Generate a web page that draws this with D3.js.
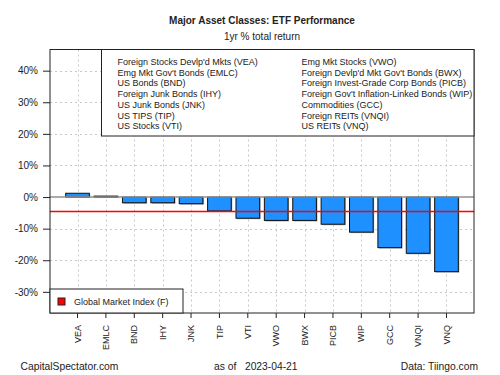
<!DOCTYPE html>
<html>
<head>
<meta charset="utf-8">
<script src="https://cdn.jsdelivr.net/npm/d3@7"></script>
<style>
  body { margin: 0; background: #fff; }
  svg { font-family: "Liberation Sans", Arial, sans-serif; }
</style>
</head>
<body>
<div id="chart"></div>
<script>
// podaci
const tickers = ["VEA", "EMLC", "BND", "IHY", "JNK", "TIP", "VTI", "VWO", "BWX", "PICB", "WIP", "GCC", "VNQI", "VNQ"];
const returns = [1.2, 0.3, -1.8, -1.8, -2.1, -4.4, -6.7, -7.4, -7.4, -8.6, -11.1, -16.0, -17.8, -23.6];
const globalIndex = -4.6;
const yTicks = [-30, -20, -10, 0, 10, 20, 30, 40];
const legendLeft = [
    "Foreign Stocks Devlp'd Mkts (VEA)",
    "Emg Mkt Gov't Bonds (EMLC)",
    "US Bonds (BND)",
    "Foreign Junk Bonds (IHY)",
    "US Junk Bonds (JNK)",
    "US TIPS (TIP)",
    "US Stocks (VTI)"
];
const legendRight = [
    "Emg Mkt Stocks (VWO)",
    "Foreign Devlp'd Mkt Gov't Bonds (BWX)",
    "Foreign Invest-Grade Corp Bonds (PICB)",
    "Foreign Gov't Inflation-Linked Bonds (WIP)",
    "Commodities (GCC)",
    "Foreign REITs (VNQI)",
    "US REITs (VNQ)"
];

const dim = {
    sirina: 500,
    visina: 375,
    left: 50,
    right: 474,
    top: 49.5,
    bottom: 313
};

const svg = d3.select("#chart")
    .append("svg")
    .attr("width", dim.sirina)
    .attr("height", dim.visina);

// skale
const xScale = d3.scaleBand()
    .domain(tickers)
    .range([dim.left, dim.right])
    .paddingInner(1 / 6)
    .paddingOuter(0.553);

const yScale = d3.scaleLinear()
    .domain([-36.7, 46.7])
    .range([dim.bottom, dim.top]);

const cx = d => xScale(d) + xScale.bandwidth() / 2;

// mreza
const grid = svg.append("g")
    .attr("stroke", "#c8c8c8")
    .attr("stroke-dasharray", "2,3")
    .attr("stroke-width", 1);

grid.selectAll(".h")
    .data(yTicks.filter(t => t !== 0))
    .join("line")
    .attr("x1", dim.left)
    .attr("x2", dim.right)
    .attr("y1", d => Math.round(yScale(d)) + 0.5)
    .attr("y2", d => Math.round(yScale(d)) + 0.5);

grid.selectAll(".v")
    .data(tickers)
    .join("line")
    .attr("x1", d => Math.round(cx(d)) + 0.5)
    .attr("x2", d => Math.round(cx(d)) + 0.5)
    .attr("y1", dim.top)
    .attr("y2", dim.bottom);

// stupci
const data = tickers.map((t, i) => ({ ticker: t, value: returns[i] }));

svg.append("g")
    .selectAll("rect")
    .data(data)
    .join("rect")
    .attr("x", d => xScale(d.ticker) + 1)
    .attr("y", d => yScale(Math.max(0, d.value)) + 1)
    .attr("width", xScale.bandwidth())
    .attr("height", d => Math.max(0.5, Math.abs(yScale(d.value) - yScale(0))))
    .attr("fill", "#a0a0a0");

svg.append("g")
    .selectAll("rect")
    .data(data)
    .join("rect")
    .attr("x", d => xScale(d.ticker))
    .attr("y", d => yScale(Math.max(0, d.value)))
    .attr("width", xScale.bandwidth())
    .attr("height", d => Math.abs(yScale(d.value) - yScale(0)))
    .attr("fill", "#1E90FF")
    .attr("stroke", "#111")
    .attr("stroke-width", 1);

// nulta linija i globalni indeks
svg.append("line")
    .attr("x1", dim.left)
    .attr("x2", dim.right)
    .attr("y1", yScale(0))
    .attr("y2", yScale(0))
    .attr("stroke", "#909090")
    .attr("stroke-width", 1.5);

svg.append("line")
    .attr("x1", dim.left)
    .attr("x2", dim.right)
    .attr("y1", yScale(globalIndex))
    .attr("y2", yScale(globalIndex))
    .attr("stroke", "#ff0000")
    .attr("stroke-width", 1.5);

// osi
const yAxis = svg.append("g")
    .attr("transform", `translate(${dim.left},0)`)
    .call(d3.axisLeft(yScale).tickValues(yTicks).tickSize(7).tickPadding(5).tickFormat(d => d + "%"));
yAxis.select(".domain").remove();
yAxis.selectAll(".tick line").attr("stroke", "#222");
yAxis.selectAll("text").attr("font-size", 10).attr("fill", "#222").attr("font-family", null);

const xAxis = svg.append("g")
    .attr("transform", `translate(0,${dim.bottom})`)
    .call(d3.axisBottom(xScale).tickSize(5).tickSizeOuter(0));
xAxis.select(".domain").remove();
xAxis.selectAll(".tick line").attr("stroke", "#222");
xAxis.selectAll("text")
    .attr("font-size", 9)
    .attr("fill", "#222")
    .attr("font-family", null)
    .attr("transform", "rotate(-90)")
    .attr("text-anchor", "end")
    .attr("dy", "0.35em")
    .attr("x", -12)
    .attr("y", 0);

// okvir
svg.append("rect")
    .attr("x", dim.left)
    .attr("y", dim.top)
    .attr("width", dim.right - dim.left)
    .attr("height", dim.bottom - dim.top)
    .attr("fill", "none")
    .attr("stroke", "#222")
    .attr("stroke-width", 1);

// legenda gore
const leg = svg.append("g");
leg.append("rect")
    .attr("x", 101.5)
    .attr("y", dim.top)
    .attr("width", dim.right - 101.5)
    .attr("height", 136 - dim.top)
    .attr("fill", "#fff")
    .attr("stroke", "#222");

const rowY = i => 61.7 + i * 10.77;
leg.selectAll(".l")
    .data(legendLeft)
    .join("text")
    .attr("x", 117.5)
    .attr("y", (d, i) => rowY(i))
    .attr("dy", "0.35em")
    .attr("font-size", 9)
    .attr("fill", "#222")
    .text(d => d);
leg.selectAll(".r")
    .data(legendRight)
    .join("text")
    .attr("x", 301.5)
    .attr("y", (d, i) => rowY(i))
    .attr("dy", "0.35em")
    .attr("font-size", 9)
    .attr("fill", "#222")
    .text(d => d);

// legenda dolje
const leg2 = svg.append("g");
leg2.append("rect")
    .attr("x", dim.left)
    .attr("y", 289)
    .attr("width", 183 - dim.left)
    .attr("height", dim.bottom - 289)
    .attr("fill", "#fff")
    .attr("stroke", "#222");
leg2.append("rect")
    .attr("x", 58)
    .attr("y", 298)
    .attr("width", 7)
    .attr("height", 7)
    .attr("fill", "#ff0000")
    .attr("stroke", "#222");
leg2.append("text")
    .attr("x", 74)
    .attr("y", 301.5)
    .attr("dy", "0.35em")
    .attr("font-size", 9)
    .attr("fill", "#222")
    .text("Global Market Index (F)");

// naslovi
svg.append("text")
    .attr("x", 262)
    .attr("y", 20)
    .attr("dy", "0.35em")
    .attr("text-anchor", "middle")
    .attr("font-size", 10)
    .attr("font-weight", "bold")
    .attr("fill", "#222")
    .text("Major Asset Classes: ETF Performance");

svg.append("text")
    .attr("x", 262)
    .attr("y", 36.7)
    .attr("dy", "0.35em")
    .attr("text-anchor", "middle")
    .attr("font-size", 10)
    .attr("fill", "#222")
    .text("1yr % total return");

// podnozje
svg.append("text")
    .attr("x", 20.5)
    .attr("y", 366.5)
    .attr("dy", "0.35em")
    .attr("font-size", 10.3)
    .attr("fill", "#222")
    .text("CapitalSpectator.com");

svg.append("text")
    .attr("x", 214)
    .attr("y", 366.5)
    .attr("dy", "0.35em")
    .attr("font-size", 10.3)
    .attr("fill", "#222")
    .attr("xml:space", "preserve")
    .style("white-space", "pre")
    .text("as of   2023-04-21");

svg.append("text")
    .attr("x", 478)
    .attr("y", 366.5)
    .attr("dy", "0.35em")
    .attr("text-anchor", "end")
    .attr("font-size", 10.3)
    .attr("fill", "#222")
    .text("Data: Tiingo.com");
</script>
</body>
</html>
